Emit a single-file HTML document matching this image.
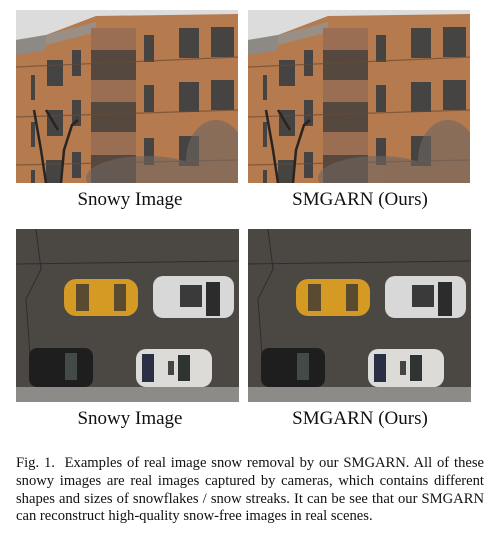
<!DOCTYPE html>
<html><head><meta charset="utf-8"><style>
body{margin:0;background:#fff;width:490px;height:535px;position:relative;overflow:hidden;font-family:"Liberation Serif",serif;}
svg{position:absolute;left:0;top:0}
.lab{position:absolute;font-size:19px;color:#111;text-align:center;width:240px;line-height:20px}
.cap{position:absolute;left:16px;width:468px;top:455px;font-size:14.6px;line-height:17.8px;color:#111}
.cap span{display:block;text-align:justify;text-align-last:justify;white-space:nowrap}
</style></head><body>
<svg width="490" height="535" viewBox="0 0 490 535">
<defs>
<clipPath id="c"><rect width="222" height="173"/></clipPath>
<clipPath id="c2"><rect width="223" height="173"/></clipPath>
<g id="bld" clip-path="url(#c)">
 <rect width="222" height="173" fill="#b57a4e"/>
 <polygon points="0,0 222,0 222,4 80,6 30,25 0,30" fill="#dcdcdc"/>
 <polygon points="0,30 30,25 30,40 0,45" fill="#8d8a86"/>
 <polygon points="30,25 80,12 80,22 30,35" fill="#9a8f86"/>
 <rect x="75" y="18" width="45" height="155" fill="#9a6e52"/>
 <rect x="75" y="40" width="45" height="30" fill="#55493f"/>
 <rect x="75" y="92" width="45" height="30" fill="#55493f"/>
 <rect x="75" y="145" width="45" height="28" fill="#55493f"/>
 <g fill="#464343">
  <rect x="31" y="50" width="16" height="26"/><rect x="56" y="40" width="9" height="26"/>
  <rect x="31" y="100" width="16" height="26"/><rect x="56" y="90" width="9" height="26"/>
  <rect x="30" y="150" width="16" height="23"/><rect x="56" y="142" width="9" height="26"/>
  <rect x="15" y="65" width="4" height="25"/><rect x="15" y="112" width="4" height="25"/><rect x="15" y="160" width="4" height="13"/>
  <rect x="128" y="25" width="10" height="27"/><rect x="128" y="75" width="10" height="27"/><rect x="128" y="128" width="10" height="27"/>
  <rect x="163" y="18" width="20" height="30"/><rect x="163" y="72" width="20" height="30"/><rect x="163" y="126" width="20" height="30"/>
  <rect x="195" y="17" width="23" height="30"/><rect x="195" y="70" width="23" height="30"/>
 </g>
 <g stroke="#6a4a34" stroke-width="1.2" opacity=".7">
  <line x1="0" y1="57" x2="222" y2="47"/><line x1="0" y1="107" x2="222" y2="100"/><line x1="0" y1="155" x2="222" y2="150"/>
 </g>
 <g fill="#6e6660" opacity=".6">
  <ellipse cx="130" cy="168" rx="60" ry="22"/><ellipse cx="200" cy="150" rx="30" ry="40"/>
 </g>
 <g stroke="#2a2420" fill="none" stroke-width="2.5">
  <path d="M30,173 L25,140 L18,100"/><path d="M45,173 L48,140 L56,115 L62,110"/><path d="M42,120 L30,100"/>
 </g>
</g>
<g id="park" clip-path="url(#c2)">
 <rect width="223" height="173" fill="#4b4844"/>
 <rect y="158" width="223" height="15" fill="#8d8b88"/>
 <g stroke="#2f2d2b" fill="none" stroke-width="1"><path d="M20,0 L25,40 L10,70 L15,140"/><path d="M0,35 L223,32"/></g>
 <rect x="48" y="50" width="74" height="37" rx="12" fill="#d49a24"/>
 <rect x="60" y="55" width="13" height="27" fill="#5a4a30"/><rect x="98" y="55" width="12" height="27" fill="#5a4a30"/>
 <rect x="137" y="47" width="81" height="42" rx="10" fill="#d8d8d8"/>
 <rect x="164" y="56" width="22" height="22" fill="#3a3a3a"/><rect x="190" y="53" width="14" height="34" fill="#2c2c2c"/>
 <rect x="13" y="119" width="64" height="39" rx="8" fill="#1f1e1f"/>
 <rect x="49" y="124" width="12" height="27" fill="#444a48"/>
 <rect x="120" y="120" width="76" height="38" rx="10" fill="#dddbd8"/>
 <rect x="126" y="125" width="12" height="28" fill="#2a2f44"/><rect x="162" y="126" width="12" height="26" fill="#2e3432"/><rect x="152" y="132" width="6" height="14" fill="#444"/>
</g>
</defs>
<use href="#bld" x="16" y="10"/>
<use href="#bld" x="248" y="10"/>
<use href="#park" x="16" y="229"/>
<use href="#park" x="248" y="229"/>
</svg>
<div class="lab" style="left:10px;top:190px">Snowy Image</div>
<div class="lab" style="left:240px;top:190px">SMGARN (Ours)</div>
<div class="lab" style="left:10px;top:409px">Snowy Image</div>
<div class="lab" style="left:240px;top:409px">SMGARN (Ours)</div>
<div class="cap"><span>Fig. 1.&nbsp; Examples of real image snow removal by our SMGARN. All of these</span><span>snowy images are real images captured by cameras, which contains different</span><span>shapes and sizes of snowflakes / snow streaks. It can be see that our SMGARN</span><div style="text-align:left;white-space:nowrap">can reconstruct high-quality snow-free images in real scenes.</div></div>
</body></html>
